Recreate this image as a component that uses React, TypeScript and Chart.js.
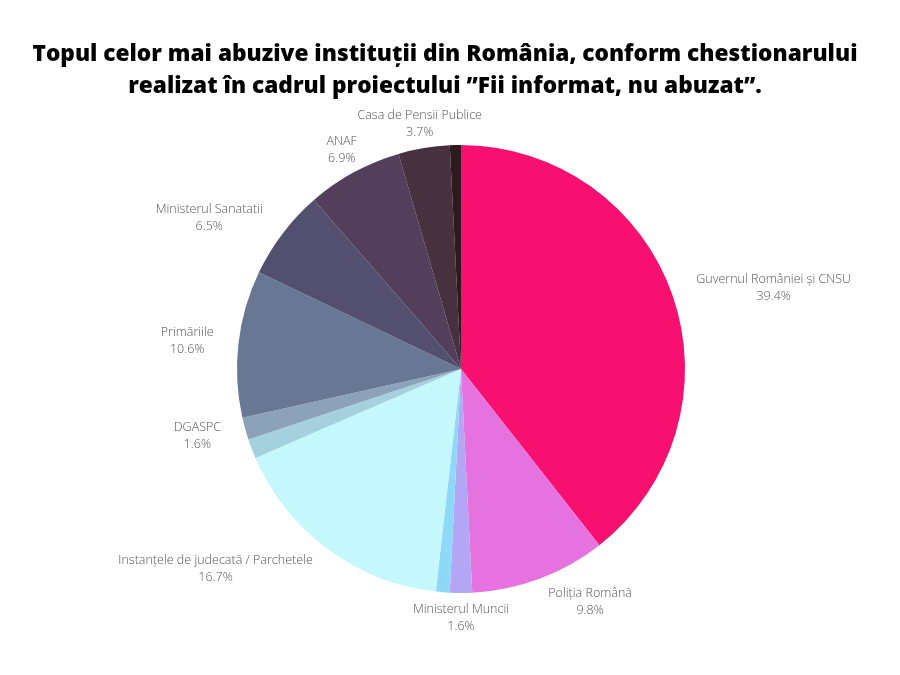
import React, { useEffect, useRef } from "react";
import { Chart, registerables } from "chart.js";

Chart.register(...registerables);

const titleLines = [
  "Topul celor mai abuzive instituții din România, conform chestionarului",
  "realizat în cadrul proiectului ”Fii informat, nu abuzat”.",
];

const categories = [
  "Guvernul României și CNSU",
  "Poliția Română",
  "Ministerul Muncii",
  "",
  "Instanțele de judecată / Parchetele",
  "",
  "DGASPC",
  "Primăriile",
  "Ministerul Sanatatii",
  "ANAF",
  "Casa de Pensii Publice",
  "",
];

const values = [39.4, 9.8, 1.6, 1.0, 16.7, 1.4, 1.6, 10.6, 6.5, 6.9, 3.7, 0.8];

const colors = [
  "#F7106F",
  "#E672DF",
  "#B2A6F5",
  "#8FD9F8",
  "#C4F8FC",
  "#A5D1DE",
  "#8CA2B8",
  "#687793",
  "#524F6F",
  "#533F5B",
  "#48313F",
  "#2C1A1F",
];

const titlePlugin = {
  id: "customTitle",
  afterDraw(chart: any) {
    const ctx = chart.ctx;
    ctx.save();
    ctx.fillStyle = "#000";
    ctx.font = "800 22px 'Open Sans'";
    ctx.textAlign = "center";
    ctx.textBaseline = "alphabetic";
    const ys = [61, 93];
    const w0 = ctx.measureText(titleLines[0]).width;
    const sx = 825 / w0;
    titleLines.forEach((line, i) => {
      ctx.save();
      ctx.translate(445, ys[i]);
      ctx.scale(sx, 1);
      ctx.fillText(line, 0, 0);
      ctx.restore();
    });
    ctx.restore();
  },
};

const labelPlugin = {
  id: "outerLabels",
  afterDraw(chart: any) {
    const ctx = chart.ctx;
    const meta = chart.getDatasetMeta(0);
    ctx.save();
    ctx.fillStyle = "#555";
    ctx.font = "300 12.5px 'Open Sans'";
    ctx.textBaseline = "middle";
    meta.data.forEach((arc: any, i: number) => {
      const name = categories[i];
      if (!name) return;
      const mid = (arc.startAngle + arc.endAngle) / 2;
      const dx = Math.cos(mid);
      const dy = Math.sin(mid);
      const r = arc.outerRadius + 25;
      const ax = arc.x + dx * r;
      const ay = arc.y + dy * r;
      let align = "center";
      if (dx > 0.3) align = "left";
      else if (dx < -0.5) align = "right";
      const lines = [name, values[i].toFixed(1) + "%"];
      const w = Math.max(...lines.map((l) => ctx.measureText(l).width));
      const lh = 17;
      const top = ay - lh / 2;
      lines.forEach((l, j) => {
        ctx.textAlign = "center";
        let cx = ax;
        if (align === "left") cx = ax + w / 2;
        else if (align === "right") cx = ax - w / 2;
        ctx.fillText(l, cx, top + j * lh);
      });
    });
    ctx.restore();
  },
};

export default function App() {
  const ref = useRef<HTMLCanvasElement>(null);
  useEffect(() => {
    document.body.style.margin = "0";
    const chart = new Chart(ref.current as HTMLCanvasElement, {
      type: "pie",
      data: {
        labels: categories,
        datasets: [
          {
            data: values,
            backgroundColor: colors,
            borderWidth: 0,
          },
        ],
      },
      options: {
        responsive: false,
        animation: false,
        layout: { padding: { left: 237, right: 215, top: 145, bottom: 82 } },
        plugins: {
          legend: { display: false },
          tooltip: { enabled: false },
          title: { display: false },
        },
      },
      plugins: [titlePlugin, labelPlugin],
    });
    return () => chart.destroy();
  }, []);
  return (
    <div style={{ width: 900, height: 675, background: "#fff" }}>
      <canvas ref={ref} width={900} height={675} />
    </div>
  );
}
